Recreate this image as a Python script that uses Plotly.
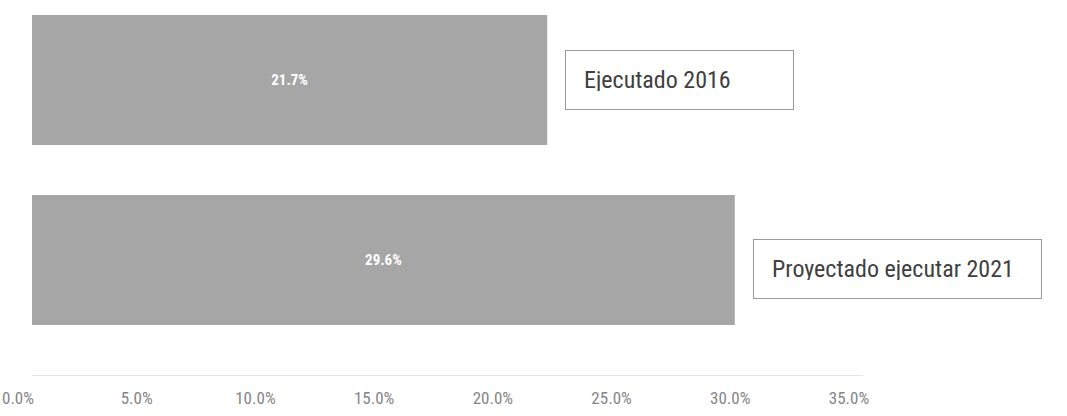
import plotly.graph_objects as go

categories = ["Ejecutado 2016", "Proyectado ejecutar 2021"]
values = [21.7, 29.6]
value_labels = ["21.7%", "29.6%"]
tick_vals = [0, 5, 10, 15, 20, 25, 30, 35]
tick_text = ["0.0%", "5.0%", "10.0%", "15.0%", "20.0%", "25.0%", "30.0%", "35.0%"]

NARROW = "Liberation Sans Narrow, Arial Narrow, Roboto Condensed, Roboto, sans-serif"

fig = go.Figure()
fig.add_trace(go.Bar(
    x=values,
    y=categories,
    orientation="h",
    marker=dict(color="#a6a6a6", line=dict(width=0)),
    text=["<b>" + t + "</b>" for t in value_labels],
    textposition="inside",
    insidetextanchor="middle",
    textangle=0,
    textfont=dict(family=NARROW, size=15, color="white"),
    hoverinfo="skip",
))

box_widths = [191, 251]
y_shifts = [0, -9]
for cat, val, w, ys in zip(categories, values, box_widths, y_shifts):
    fig.add_annotation(
        x=val, y=cat, xref="x", yref="y",
        text=cat, showarrow=False,
        xanchor="left", yanchor="middle",
        xshift=18, yshift=ys,
        align="left",
        width=w, height=22,
        borderpad=18,
        bordercolor="#9a9a9a", borderwidth=1,
        bgcolor="white",
        font=dict(family=NARROW, size=24, color="#404040"),
    )

fig.update_layout(
    width=1067, height=416,
    margin=dict(l=32, r=204, t=0, b=41),
    paper_bgcolor="white",
    plot_bgcolor="white",
    showlegend=False,
    bargap=0.278,
    xaxis=dict(
        range=[0, 35],
        tickvals=tick_vals,
        ticktext=tick_text,
        showgrid=False,
        zeroline=False,
        showline=True,
        linecolor="#e6e6e6",
        linewidth=1,
        ticks="",
        ticklabelstandoff=8,
        ticklabelshift=-14,
        ticklabeloverflow="allow",
        automargin=False,
        tickfont=dict(family=NARROW, size=17, color="#858585"),
    ),
    yaxis=dict(
        range=[1.639, -0.444],
        showticklabels=False,
        showgrid=False,
        zeroline=False,
        showline=False,
        ticks="",
        automargin=False,
    ),
)

fig.write_html(
    "out.html",
    config={"displayModeBar": False},
    post_script="document.body.style.margin='0';document.body.style.overflow='hidden';",
)
